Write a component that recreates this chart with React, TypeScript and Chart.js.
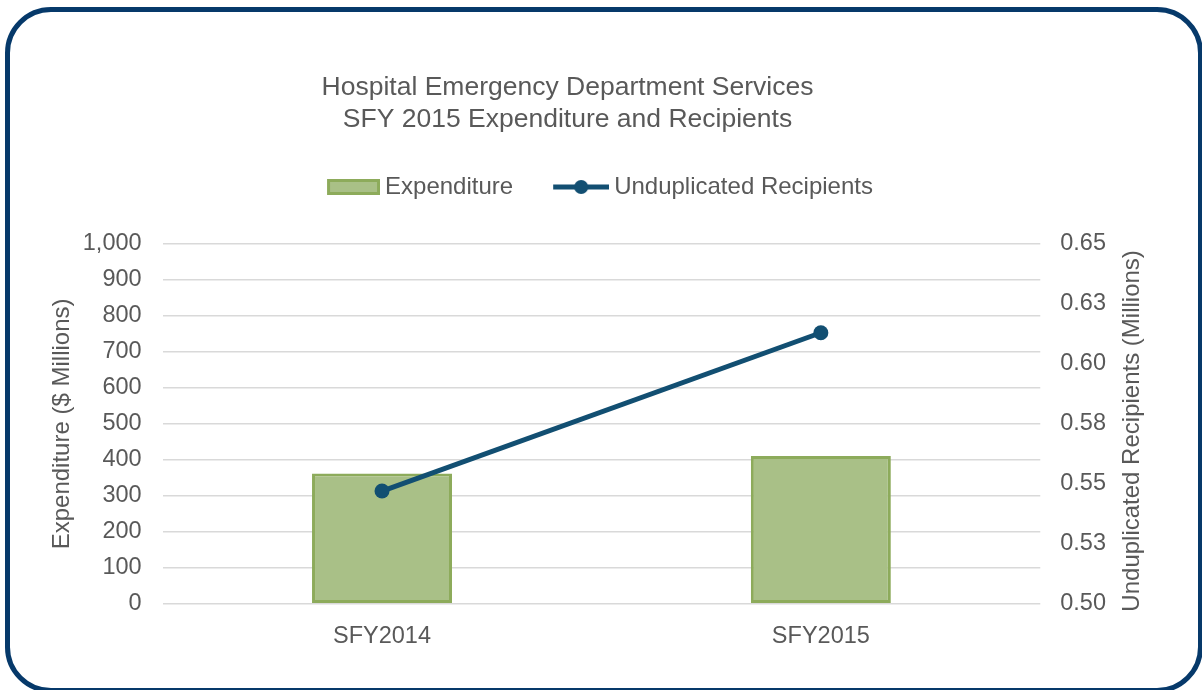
import React, { useEffect, useRef } from 'react';
import { Chart, registerables } from 'chart.js';

Chart.register(...registerables);

// ---- data ----
const categories = ['SFY2014', 'SFY2015'];
const expenditure = [362, 411];
const recipients = [0.547, 0.613];
const seriesNames = ['Expenditure', 'Unduplicated Recipients'];
const titleLines = ['Hospital Emergency Department Services', 'SFY 2015 Expenditure and Recipients'];
const leftAxisTitle = 'Expenditure ($ Millions)';
const rightAxisTitle = 'Unduplicated Recipients (Millions)';
const leftTickMin = 0;
const leftTickMax = 1000;
const leftTickStep = 100;
const rightTickMin = 0.5;
const rightTickMax = 0.65;
const rightTickStep = 0.025;
const rightTickLabels = ['0.50', '0.53', '0.55', '0.58', '0.60', '0.63', '0.65'];

// ---- styles ----
const FONT = "'Liberation Sans', Arial, sans-serif";
const TEXT = '#595959';
const BAR_FILL = '#a9c087';
const BAR_BORDER = '#8dab5b';
const LINE = '#124f72';
const GRID = '#d9d9d9';
const FRAME = '#06396a';

function makeIcon(kind: 'bar' | 'line') {
  const c = document.createElement('canvas');
  c.width = 94;
  c.height = 20;
  const g = c.getContext('2d')!;
  if (kind === 'bar') {
    g.fillStyle = BAR_FILL;
    g.fillRect(41, 2, 53, 16);
    g.strokeStyle = BAR_BORDER;
    g.lineWidth = 3;
    g.strokeRect(42.5, 3.5, 50, 13);
  } else {
    g.strokeStyle = LINE;
    g.lineWidth = 5;
    g.beginPath();
    g.moveTo(38, 10);
    g.lineTo(94, 10);
    g.stroke();
    g.fillStyle = LINE;
    g.beginPath();
    g.arc(66, 10, 7, 0, Math.PI * 2);
    g.fill();
  }
  return c;
}

const tweaks = {
  id: 'tweaks',
  beforeLayout(chart: any) {
    const lg = chart.legend;
    if (lg && !lg._patched) {
      const orig = lg.fit.bind(lg);
      lg.fit = function () {
        orig();
        this.height += 35;
      };
      lg._patched = true;
    }
  },
  afterLayout(chart: any) {
    const tb = chart.titleBlock;
    if (tb) {
      tb.left -= 8.5;
      tb.right -= 8.5;
    }
    const lg = chart.legend;
    if (lg) {
      lg.left += 7;
      lg.right += 7;
    }
  },
  afterDraw(chart: any) {
    const s = chart.scales.y1;
    const ctx = chart.ctx;
    ctx.save();
    ctx.translate(s.right + 26, (chart.chartArea.top + chart.chartArea.bottom) / 2 + 7);
    ctx.rotate(-Math.PI / 2);
    ctx.font = `24px ${FONT}`;
    ctx.fillStyle = TEXT;
    ctx.textAlign = 'center';
    ctx.textBaseline = 'middle';
    ctx.fillText(rightAxisTitle, 0, 0);
    ctx.restore();
  },
};

export default function App() {
  const ref = useRef<HTMLCanvasElement | null>(null);

  useEffect(() => {
    if (!ref.current) return;
    const icons = [makeIcon('bar'), makeIcon('line')];
    const chart = new Chart(ref.current, {
      type: 'bar',
      data: {
        labels: categories,
        datasets: [
          {
            type: 'bar',
            label: seriesNames[0],
            data: expenditure,
            backgroundColor: BAR_FILL,
            borderColor: BAR_BORDER,
            borderWidth: 3,
            borderSkipped: false,
            barPercentage: 0.319,
            categoryPercentage: 1,
            yAxisID: 'y',
            order: 1,
          },
          {
            type: 'line',
            label: seriesNames[1],
            data: recipients,
            borderColor: LINE,
            backgroundColor: LINE,
            borderWidth: 5,
            pointRadius: 7.5,
            pointBorderWidth: 0,
            pointBackgroundColor: LINE,
            pointBorderColor: LINE,
            yAxisID: 'y1',
            order: 0,
          } as any,
        ],
      },
      options: {
        responsive: false,
        animation: false,
        layout: { padding: { left: 46, right: 96, top: 0, bottom: 39 } },
        font: { family: FONT },
        plugins: {
          tooltip: { enabled: false },
          title: {
            display: true,
            text: titleLines,
            color: TEXT,
            font: { family: FONT, size: 26.5, weight: 'normal' },
            padding: { top: 72, bottom: 30.4 },
          },
          legend: {
            display: true,
            position: 'top',
            labels: {
              color: TEXT,
              font: { family: FONT, size: 24 },
              usePointStyle: true,
              pointStyleWidth: 80,
              padding: 9,
              sort: (a: any, b: any) => a.datasetIndex - b.datasetIndex,
              generateLabels: (ch: any) => {
                const base = (Chart.defaults.plugins.legend.labels as any).generateLabels(ch);
                return base.map((it: any) => ({ ...it, pointStyle: icons[it.datasetIndex] }));
              },
            },
          },
        },
        scales: {
          x: {
            grid: { display: false, drawTicks: false },
            border: { display: false },
            ticks: { color: TEXT, font: { family: FONT, size: 23.5 }, padding: 19 },
            afterFit: (s: any) => {
              s.height -= 19;
            },
          },
          y: {
            position: 'left',
            min: leftTickMin,
            max: leftTickMax,
            grid: { color: GRID, lineWidth: 1.5, drawTicks: false },
            border: { display: false },
            ticks: {
              stepSize: leftTickStep,
              color: TEXT,
              font: { family: FONT, size: 23.5 },
              padding: 21,
              callback: (v: any) => Number(v).toLocaleString('en-US'),
            },
            title: {
              display: true,
              text: leftAxisTitle,
              color: TEXT,
              font: { family: FONT, size: 24 },
              padding: { top: 2, bottom: 6 },
            },
            afterFit: (s: any) => {
              s.width -= 21;
            },
          },
          y1: {
            position: 'right',
            min: rightTickMin,
            max: rightTickMax,
            grid: { display: false, drawOnChartArea: false, drawTicks: false },
            border: { display: false },
            ticks: {
              stepSize: rightTickStep,
              color: TEXT,
              font: { family: FONT, size: 23.5 },
              padding: 20,
              callback: (_v: any, i: number) => rightTickLabels[i],
            },
            afterFit: (s: any) => {
              s.width -= 20;
            },
          },
        },
      } as any,
      plugins: [tweaks],
    });
    return () => chart.destroy();
  }, []);

  return (
    <div style={{ position: 'absolute', left: 0, top: 0, width: 1202, height: 690, overflow: 'hidden', background: '#fff' }}>
      <div
        style={{
          position: 'absolute',
          left: 5,
          top: 7,
          width: 1198,
          height: 686,
          boxSizing: 'border-box',
          border: `5.5px solid ${FRAME}`,
          borderRadius: 46,
        }}
      />
      <canvas ref={ref} width={1202} height={690} style={{ position: 'absolute', left: 0, top: 0 }} />
    </div>
  );
}
